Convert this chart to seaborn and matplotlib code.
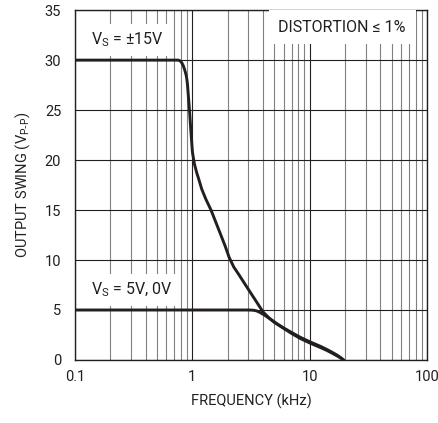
import numpy as np
import pandas as pd
import seaborn as sns
import matplotlib
matplotlib.use("Agg")
import matplotlib.pyplot as plt
from matplotlib.ticker import LogLocator, FixedLocator, NullFormatter

# output swing vs frequency
freq_15v = [0.1, 0.5, 0.76, 0.79, 0.81, 0.835, 0.855, 0.87, 0.884, 0.896, 0.907,
            0.925, 0.944, 0.969, 1.0, 1.04, 1.09, 1.125, 1.2, 1.3, 1.44, 1.58,
            1.72, 1.9, 2.05, 2.25, 2.5, 2.8, 3.1, 3.5, 4.0, 4.5, 5.0, 6.0, 7.0,
            8.3, 10, 12.3, 14, 15.5, 17, 18.3, 19.4]
swing_15v = [30, 30, 30, 29.9, 29.75, 29.45, 29.1, 28.8, 28.5, 28.1, 27.6,
             26.3, 25, 23, 20.8, 19.6, 18.7, 18.2, 17.1, 16.1, 15, 13.8,
             12.7, 11.4, 10.3, 9.3, 8.5, 7.6, 6.8, 5.85, 4.8, 4.2, 3.75, 3.15, 2.65,
             2.15, 1.7, 1.25, 0.95, 0.68, 0.42, 0.2, 0]
freq_5v = [0.1, 1.0, 3.0, 3.3, 3.5, 3.7, 3.9, 4.1, 4.4, 4.8, 5.3, 6.0, 7.0,
           8.3, 10, 12.3, 14, 15.5, 17, 18.3, 19.4]
swing_5v = [5, 5, 5, 4.98, 4.92, 4.8, 4.65, 4.5, 4.25, 3.95, 3.6, 3.2, 2.75,
            2.27, 1.82, 1.37, 1.05, 0.77, 0.5, 0.25, 0]

x_ticks = [0.1, 1, 10, 100]
x_tick_labels = ["0.1", "1", "10", "100"]
y_ticks = [0, 5, 10, 15, 20, 25, 30, 35]

df = pd.concat([
    pd.DataFrame({"freq": freq_15v, "swing": swing_15v, "supply": "15V"}),
    pd.DataFrame({"freq": freq_5v, "swing": swing_5v, "supply": "5V"}),
])

ink = "#231f20"
sns.set_style("white")
plt.rcParams["font.family"] = ["Roboto", "DejaVu Sans"]
plt.rcParams["mathtext.default"] = "regular"

fig, ax = plt.subplots(figsize=(4.39, 4.23), dpi=100)
fig.subplots_adjust(left=0.171, right=0.973, bottom=0.149, top=0.976)

sns.lineplot(data=df, x="freq", y="swing", units="supply", estimator=None,
             sort=False, color=ink, linewidth=2.1, ax=ax, zorder=5)

ax.set_xscale("log")
ax.set_xlim(0.1, 100)
ax.set_ylim(0, 35)

# grid: decades and minor lines on x, every 5 on y
ax.xaxis.set_major_locator(FixedLocator(x_ticks))
ax.xaxis.set_minor_locator(LogLocator(base=10, subs=np.arange(2, 10)))
ax.xaxis.set_minor_formatter(NullFormatter())
ax.set_xticks(x_ticks)
ax.set_xticklabels(x_tick_labels)
ax.set_yticks(y_ticks)
ax.grid(which="major", axis="both", color=ink, linewidth=0.8)
ax.grid(which="minor", axis="x", color="#808080", linewidth=0.8)
ax.set_axisbelow(True)
ax.tick_params(which="both", length=0, labelsize=10.5, labelcolor=ink)
ax.tick_params(axis="y", pad=10)
ax.tick_params(axis="x", pad=7)
for s in ax.spines.values():
    s.set_color(ink)
    s.set_linewidth(1.0)

ax.set_xlabel("FREQUENCY (kHz)", fontsize=10.5, labelpad=7, color=ink)
ax.set_ylabel(r"OUTPUT SWING (V$_{P\text{-}P}$)", fontsize=10.5, labelpad=9, color=ink)

ax.text(0.137, 32.0, r"V$_S$ = ±15V", fontsize=11.5, va="center", ha="left",
        color=ink, bbox=dict(facecolor="white", edgecolor="none", pad=5), zorder=4)
ax.text(0.137, 7.0, r"V$_S$ = 5V, 0V", fontsize=11.5, va="center", ha="left",
        color=ink, bbox=dict(facecolor="white", edgecolor="none", pad=5), zorder=4)
ax.text(5.4, 33.3, "DISTORTION ≤ 1%", fontsize=11.5, va="center", ha="left",
        color=ink, bbox=dict(facecolor="white", edgecolor="none", pad=7), zorder=4)

fig.savefig("out.png", dpi=100)
